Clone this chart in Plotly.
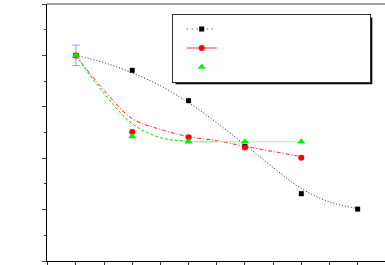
import plotly.graph_objects as go

# data points
x_black = [1, 2, 3, 4, 5, 6]
y_black = [4.0, 3.71, 3.12, 2.23, 1.31, 1.01]
x_red = [1, 2, 3, 4, 5]
y_red = [4.0, 2.51, 2.41, 2.21, 2.01]
x_green = [1, 2, 3, 4, 5]
y_green = [4.0, 2.42, 2.32, 2.32, 2.32]
err_first = [0.2]

# fitted curves
fit_black_x = [1, 1.5, 2, 2.5, 3, 3.5, 4, 4.5, 5, 5.5, 6]
fit_black_y = [4.0, 3.86, 3.66, 3.41, 3.08, 2.69, 2.26, 1.82, 1.41, 1.15, 1.02]
fit_red_x = [1, 1.5, 2, 2.5, 3, 3.5, 4, 4.5, 5]
fit_red_y = [4.0, 3.32, 2.77, 2.56, 2.42, 2.34, 2.23, 2.13, 2.03]
fit_green_x = [1, 1.5, 2, 2.5, 3, 3.5]
fit_green_y = [4.0, 3.26, 2.67, 2.40, 2.33, 2.32]

fig = go.Figure()

# fit curves
fig.add_trace(go.Scatter(x=fit_black_x, y=fit_black_y, mode="lines",
                         line=dict(color="#222", width=1, dash="1px,2px", shape="spline"),
                         showlegend=False))
fig.add_trace(go.Scatter(x=fit_red_x, y=fit_red_y, mode="lines",
                         line=dict(color="#ff2020", width=1, dash="4px,2px,1px,2px", shape="spline"),
                         showlegend=False))
fig.add_trace(go.Scatter(x=fit_green_x, y=fit_green_y, mode="lines",
                         line=dict(color="#00dd00", width=1, dash="3px,2px", shape="spline"),
                         showlegend=False))
fig.add_trace(go.Scatter(x=x_green[2:], y=y_green[2:], mode="lines",
                         line=dict(color="#99ff99", width=1.2),
                         showlegend=False))

# error bar on first point
fig.add_trace(go.Scatter(x=x_black[:1], y=y_black[:1], mode="markers",
                         marker=dict(size=1, color="rgba(0,0,0,0)"),
                         error_y=dict(type="data", array=err_first, color="#9999ff",
                                      thickness=1, width=4),
                         showlegend=False))

# markers
fig.add_trace(go.Scatter(x=x_black, y=y_black, mode="markers",
                         marker=dict(symbol="square", size=5, color="black"),
                         showlegend=False))
fig.add_trace(go.Scatter(x=x_red, y=y_red, mode="markers",
                         marker=dict(symbol="circle", size=6, color="red"),
                         showlegend=False))
fig.add_trace(go.Scatter(x=x_green, y=y_green, mode="markers",
                         marker=dict(symbol="triangle-up", size=7, color="#00ee00"),
                         showlegend=False))

# legend entries
blank = "\u00a0" * 57
fig.add_trace(go.Scatter(x=[None], y=[None], mode="lines+markers", name=blank,
                         line=dict(color="#222", width=1, dash="1px,4px"),
                         marker=dict(symbol="square", size=5, color="black")))
fig.add_trace(go.Scatter(x=[None], y=[None], mode="lines+markers", name=blank,
                         line=dict(color="#ff3333", width=1),
                         marker=dict(symbol="circle", size=6, color="red")))
fig.add_trace(go.Scatter(x=[None], y=[None], mode="lines+markers", name=blank,
                         line=dict(color="#eeffee", width=1),
                         marker=dict(symbol="triangle-up", size=7, color="#00ee00")))

W, H = 385, 265
ml, mr, mt, mb = 47, 0, 4, 4
pw, ph = W - ml - mr, H - mt - mb

def px(xp):
    return (xp - ml) / pw

def py(yp):
    return (H - mb - yp) / ph

leg_top = 13.5
leg_h = 67
fig.update_layout(
    width=W, height=H,
    margin=dict(l=ml, r=mr, t=mt, b=mb, pad=0),
    paper_bgcolor="white", plot_bgcolor="white",
    font=dict(family="Liberation Sans", size=9),
    xaxis=dict(range=[0.488, 6.485], showgrid=False, zeroline=False,
               showline=True, linecolor="black", linewidth=1,
               ticks="outside", ticklen=3, tickcolor="#333",
               tick0=1, dtick=0.5, showticklabels=False),
    yaxis=dict(range=[0, 5], showgrid=False, zeroline=False,
               showline=True, linecolor="black", linewidth=1,
               ticks="outside", ticklen=4, tickcolor="#444",
               tick0=0, dtick=1, showticklabels=False,
               minor=dict(dtick=0.5, ticklen=2, ticks="outside", tickcolor="#333")),
    legend=dict(x=px(171.7), y=py(leg_top), xanchor="left", yanchor="top",
                bgcolor="white", bordercolor="#333", borderwidth=1,
                font=dict(size=9), tracegroupgap=0, indentation=9),
    shapes=[
        dict(type="line", xref="paper", yref="paper", x0=0, x1=1, y0=1, y1=1,
             line=dict(color="#444", width=1)),
        dict(type="rect", xref="paper", yref="paper",
             x0=px(175.5), x1=px(372.3), y0=py(leg_top + leg_h + 3.7), y1=py(leg_top + 4),
             fillcolor="black", line=dict(width=0), layer="above"),
    ],
)

fig.write_html("out.html")
